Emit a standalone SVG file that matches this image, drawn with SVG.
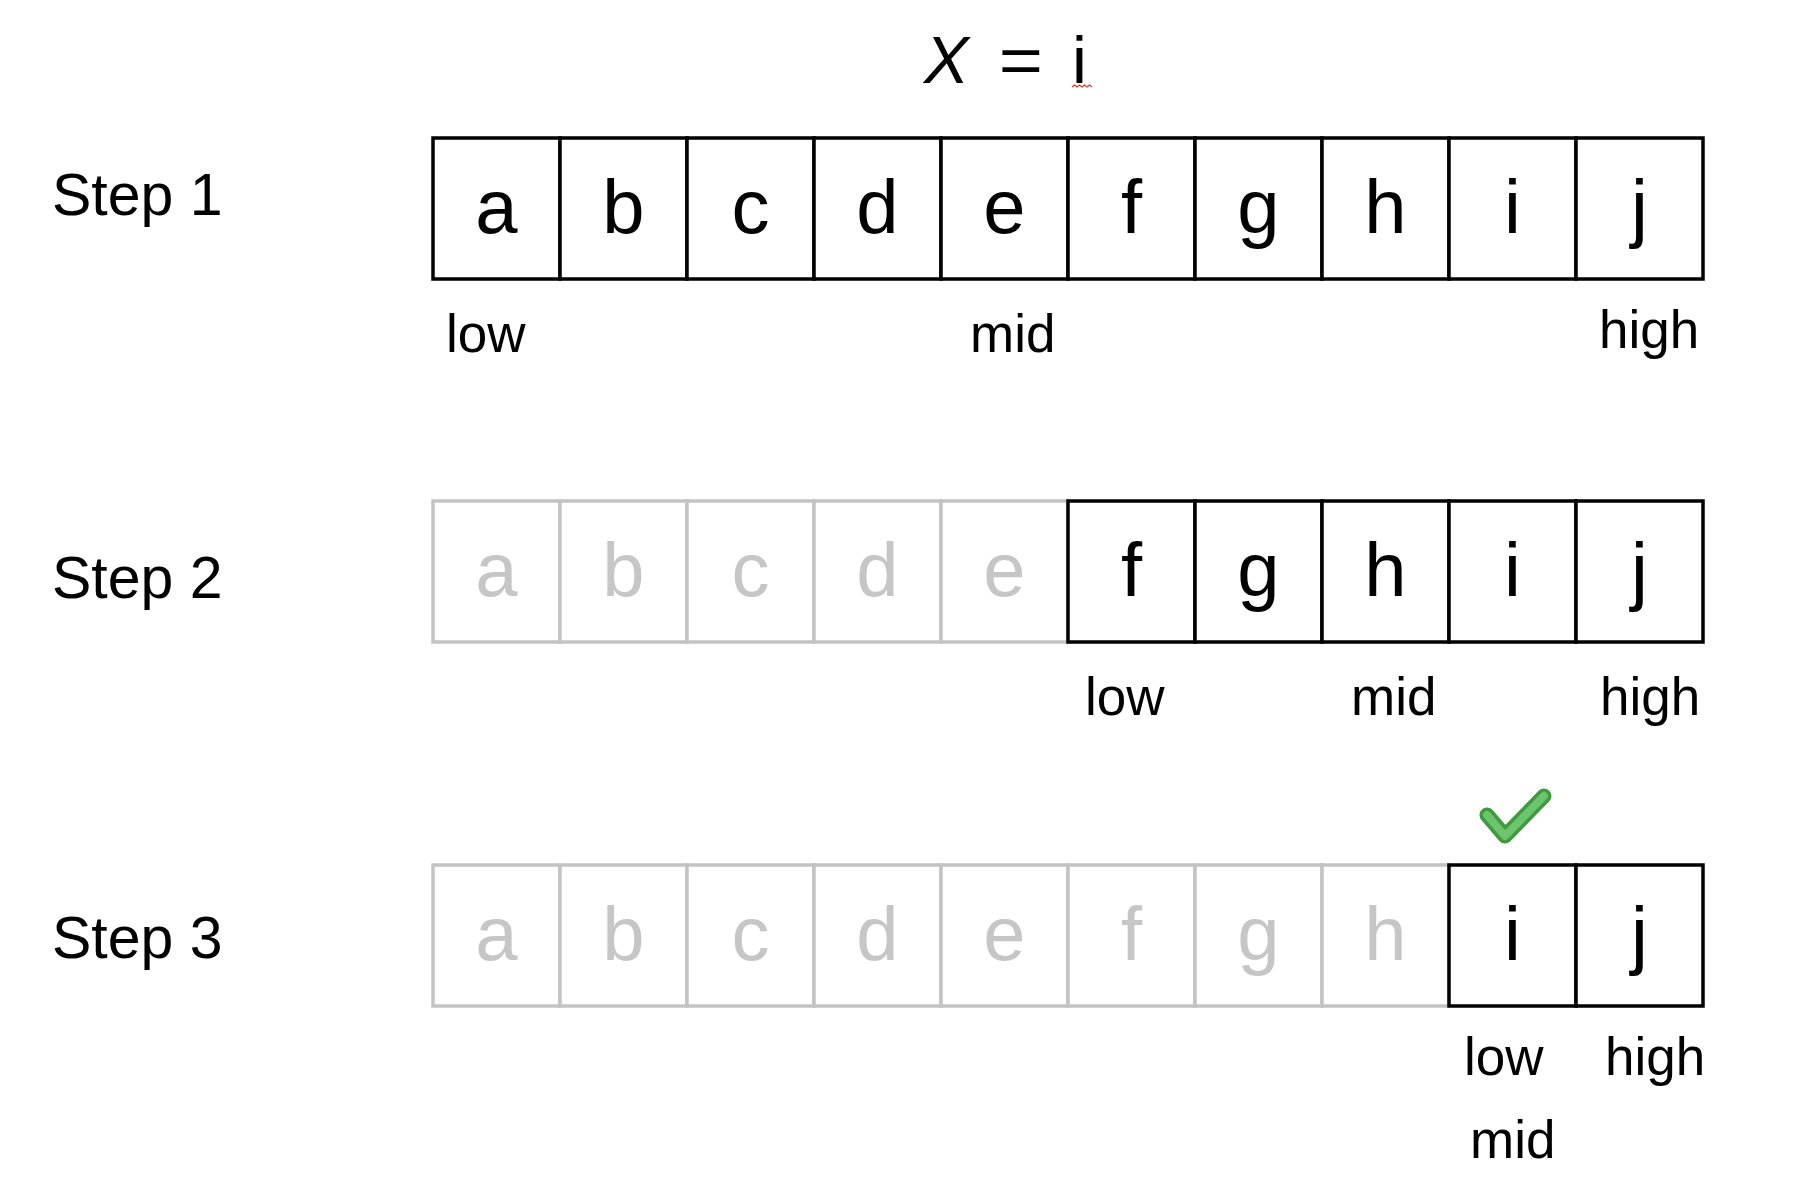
<svg xmlns="http://www.w3.org/2000/svg" width="1810" height="1192" viewBox="0 0 1810 1192">
<style>
.cb{fill:#fff;stroke:#000;stroke-width:3.5}
.cg{fill:#fff;stroke:#c3c3c3;stroke-width:3.5}
.lb{font-family:"Liberation Sans",Arial,sans-serif;font-size:76px;fill:#000;text-anchor:middle}
.lg{font-family:"Liberation Sans",Arial,sans-serif;font-size:76px;fill:#c6c6c6;text-anchor:middle}
.lab{font-family:"Liberation Sans",Arial,sans-serif;font-size:53px;fill:#000}
.step{font-family:"Liberation Sans",Arial,sans-serif;font-size:59px;fill:#000}
.ttl{font-family:"Liberation Sans",Arial,sans-serif;font-size:67px;fill:#000}
</style>
<rect width="1810" height="1192" fill="#fff"/>
<g id="title">
<text class="ttl" x="924" y="83" font-style="italic">X</text>
<text class="ttl" x="999" y="83" transform="translate(-130 0) scale(1.13 1)">=</text>
<text class="ttl" x="1072" y="83">i</text>
<path d="M1072 87 l2.5 -2 l2.5 2 l2.5 -2 l2.5 2 l2.5 -2 l2.5 2 l2.5 -2 l2.5 2" fill="none" stroke="#e03030" stroke-width="1.2"/>
</g>
<g id="step-labels">
<text class="step" x="52" y="215">Step 1</text>
<text class="step" x="52" y="598">Step 2</text>
<text class="step" x="52" y="958">Step 3</text>
</g>
<g id="row1">
<g id="r1-a"><rect class="cb" x="433" y="138" width="127" height="141"/><text class="lb" x="496.5" y="233">a</text></g>
<g id="r1-b"><rect class="cb" x="560" y="138" width="127" height="141"/><text class="lb" x="623.5" y="233">b</text></g>
<g id="r1-c"><rect class="cb" x="687" y="138" width="127" height="141"/><text class="lb" x="750.5" y="233">c</text></g>
<g id="r1-d"><rect class="cb" x="814" y="138" width="127" height="141"/><text class="lb" x="877.5" y="233">d</text></g>
<g id="r1-e"><rect class="cb" x="941" y="138" width="127" height="141"/><text class="lb" x="1004.5" y="233">e</text></g>
<g id="r1-f"><rect class="cb" x="1068" y="138" width="127" height="141"/><text class="lb" x="1131.5" y="233">f</text></g>
<g id="r1-g"><rect class="cb" x="1195" y="138" width="127" height="141"/><text class="lb" x="1258.5" y="233">g</text></g>
<g id="r1-h"><rect class="cb" x="1322" y="138" width="127" height="141"/><text class="lb" x="1385.5" y="233">h</text></g>
<g id="r1-i"><rect class="cb" x="1449" y="138" width="127" height="141"/><text class="lb" x="1512.5" y="233">i</text></g>
<g id="r1-j"><rect class="cb" x="1576" y="138" width="127" height="141"/><text class="lb" x="1639.5" y="233">j</text></g>
<text class="lab" x="446" y="352">low</text>
<text class="lab" x="970" y="352">mid</text>
<text class="lab" x="1599" y="348">high</text>
</g>
<g id="row2">
<g id="r2-a"><rect class="cg" x="433" y="501" width="127" height="141"/><text class="lg" x="496.5" y="596">a</text></g>
<g id="r2-b"><rect class="cg" x="560" y="501" width="127" height="141"/><text class="lg" x="623.5" y="596">b</text></g>
<g id="r2-c"><rect class="cg" x="687" y="501" width="127" height="141"/><text class="lg" x="750.5" y="596">c</text></g>
<g id="r2-d"><rect class="cg" x="814" y="501" width="127" height="141"/><text class="lg" x="877.5" y="596">d</text></g>
<g id="r2-e"><rect class="cg" x="941" y="501" width="127" height="141"/><text class="lg" x="1004.5" y="596">e</text></g>
<g id="r2-f"><rect class="cb" x="1068" y="501" width="127" height="141"/><text class="lb" x="1131.5" y="596">f</text></g>
<g id="r2-g"><rect class="cb" x="1195" y="501" width="127" height="141"/><text class="lb" x="1258.5" y="596">g</text></g>
<g id="r2-h"><rect class="cb" x="1322" y="501" width="127" height="141"/><text class="lb" x="1385.5" y="596">h</text></g>
<g id="r2-i"><rect class="cb" x="1449" y="501" width="127" height="141"/><text class="lb" x="1512.5" y="596">i</text></g>
<g id="r2-j"><rect class="cb" x="1576" y="501" width="127" height="141"/><text class="lb" x="1639.5" y="596">j</text></g>
<text class="lab" x="1085" y="715">low</text>
<text class="lab" x="1351" y="715">mid</text>
<text class="lab" x="1600" y="715">high</text>
</g>
<g id="row3">
<g id="r3-a"><rect class="cg" x="433" y="865" width="127" height="141"/><text class="lg" x="496.5" y="960">a</text></g>
<g id="r3-b"><rect class="cg" x="560" y="865" width="127" height="141"/><text class="lg" x="623.5" y="960">b</text></g>
<g id="r3-c"><rect class="cg" x="687" y="865" width="127" height="141"/><text class="lg" x="750.5" y="960">c</text></g>
<g id="r3-d"><rect class="cg" x="814" y="865" width="127" height="141"/><text class="lg" x="877.5" y="960">d</text></g>
<g id="r3-e"><rect class="cg" x="941" y="865" width="127" height="141"/><text class="lg" x="1004.5" y="960">e</text></g>
<g id="r3-f"><rect class="cg" x="1068" y="865" width="127" height="141"/><text class="lg" x="1131.5" y="960">f</text></g>
<g id="r3-g"><rect class="cg" x="1195" y="865" width="127" height="141"/><text class="lg" x="1258.5" y="960">g</text></g>
<g id="r3-h"><rect class="cg" x="1322" y="865" width="127" height="141"/><text class="lg" x="1385.5" y="960">h</text></g>
<g id="r3-i"><rect class="cb" x="1449" y="865" width="127" height="141"/><text class="lb" x="1512.5" y="960">i</text></g>
<g id="r3-j"><rect class="cb" x="1576" y="865" width="127" height="141"/><text class="lb" x="1639.5" y="960">j</text></g>
<text class="lab" x="1464" y="1075">low</text>
<text class="lab" x="1605" y="1075">high</text>
<text class="lab" x="1470" y="1158">mid</text>
</g>
<g id="checkmark">
<polyline points="1487,815 1505,836 1544,796" fill="none" stroke="#3f9a3f" stroke-width="15" stroke-linejoin="round" stroke-linecap="round"/>
<polyline points="1487,815 1505,836 1544,796" fill="none" stroke="#6cc46c" stroke-width="8" stroke-linejoin="round" stroke-linecap="round"/>
</g>
<g id="connectors"/>
</svg>
